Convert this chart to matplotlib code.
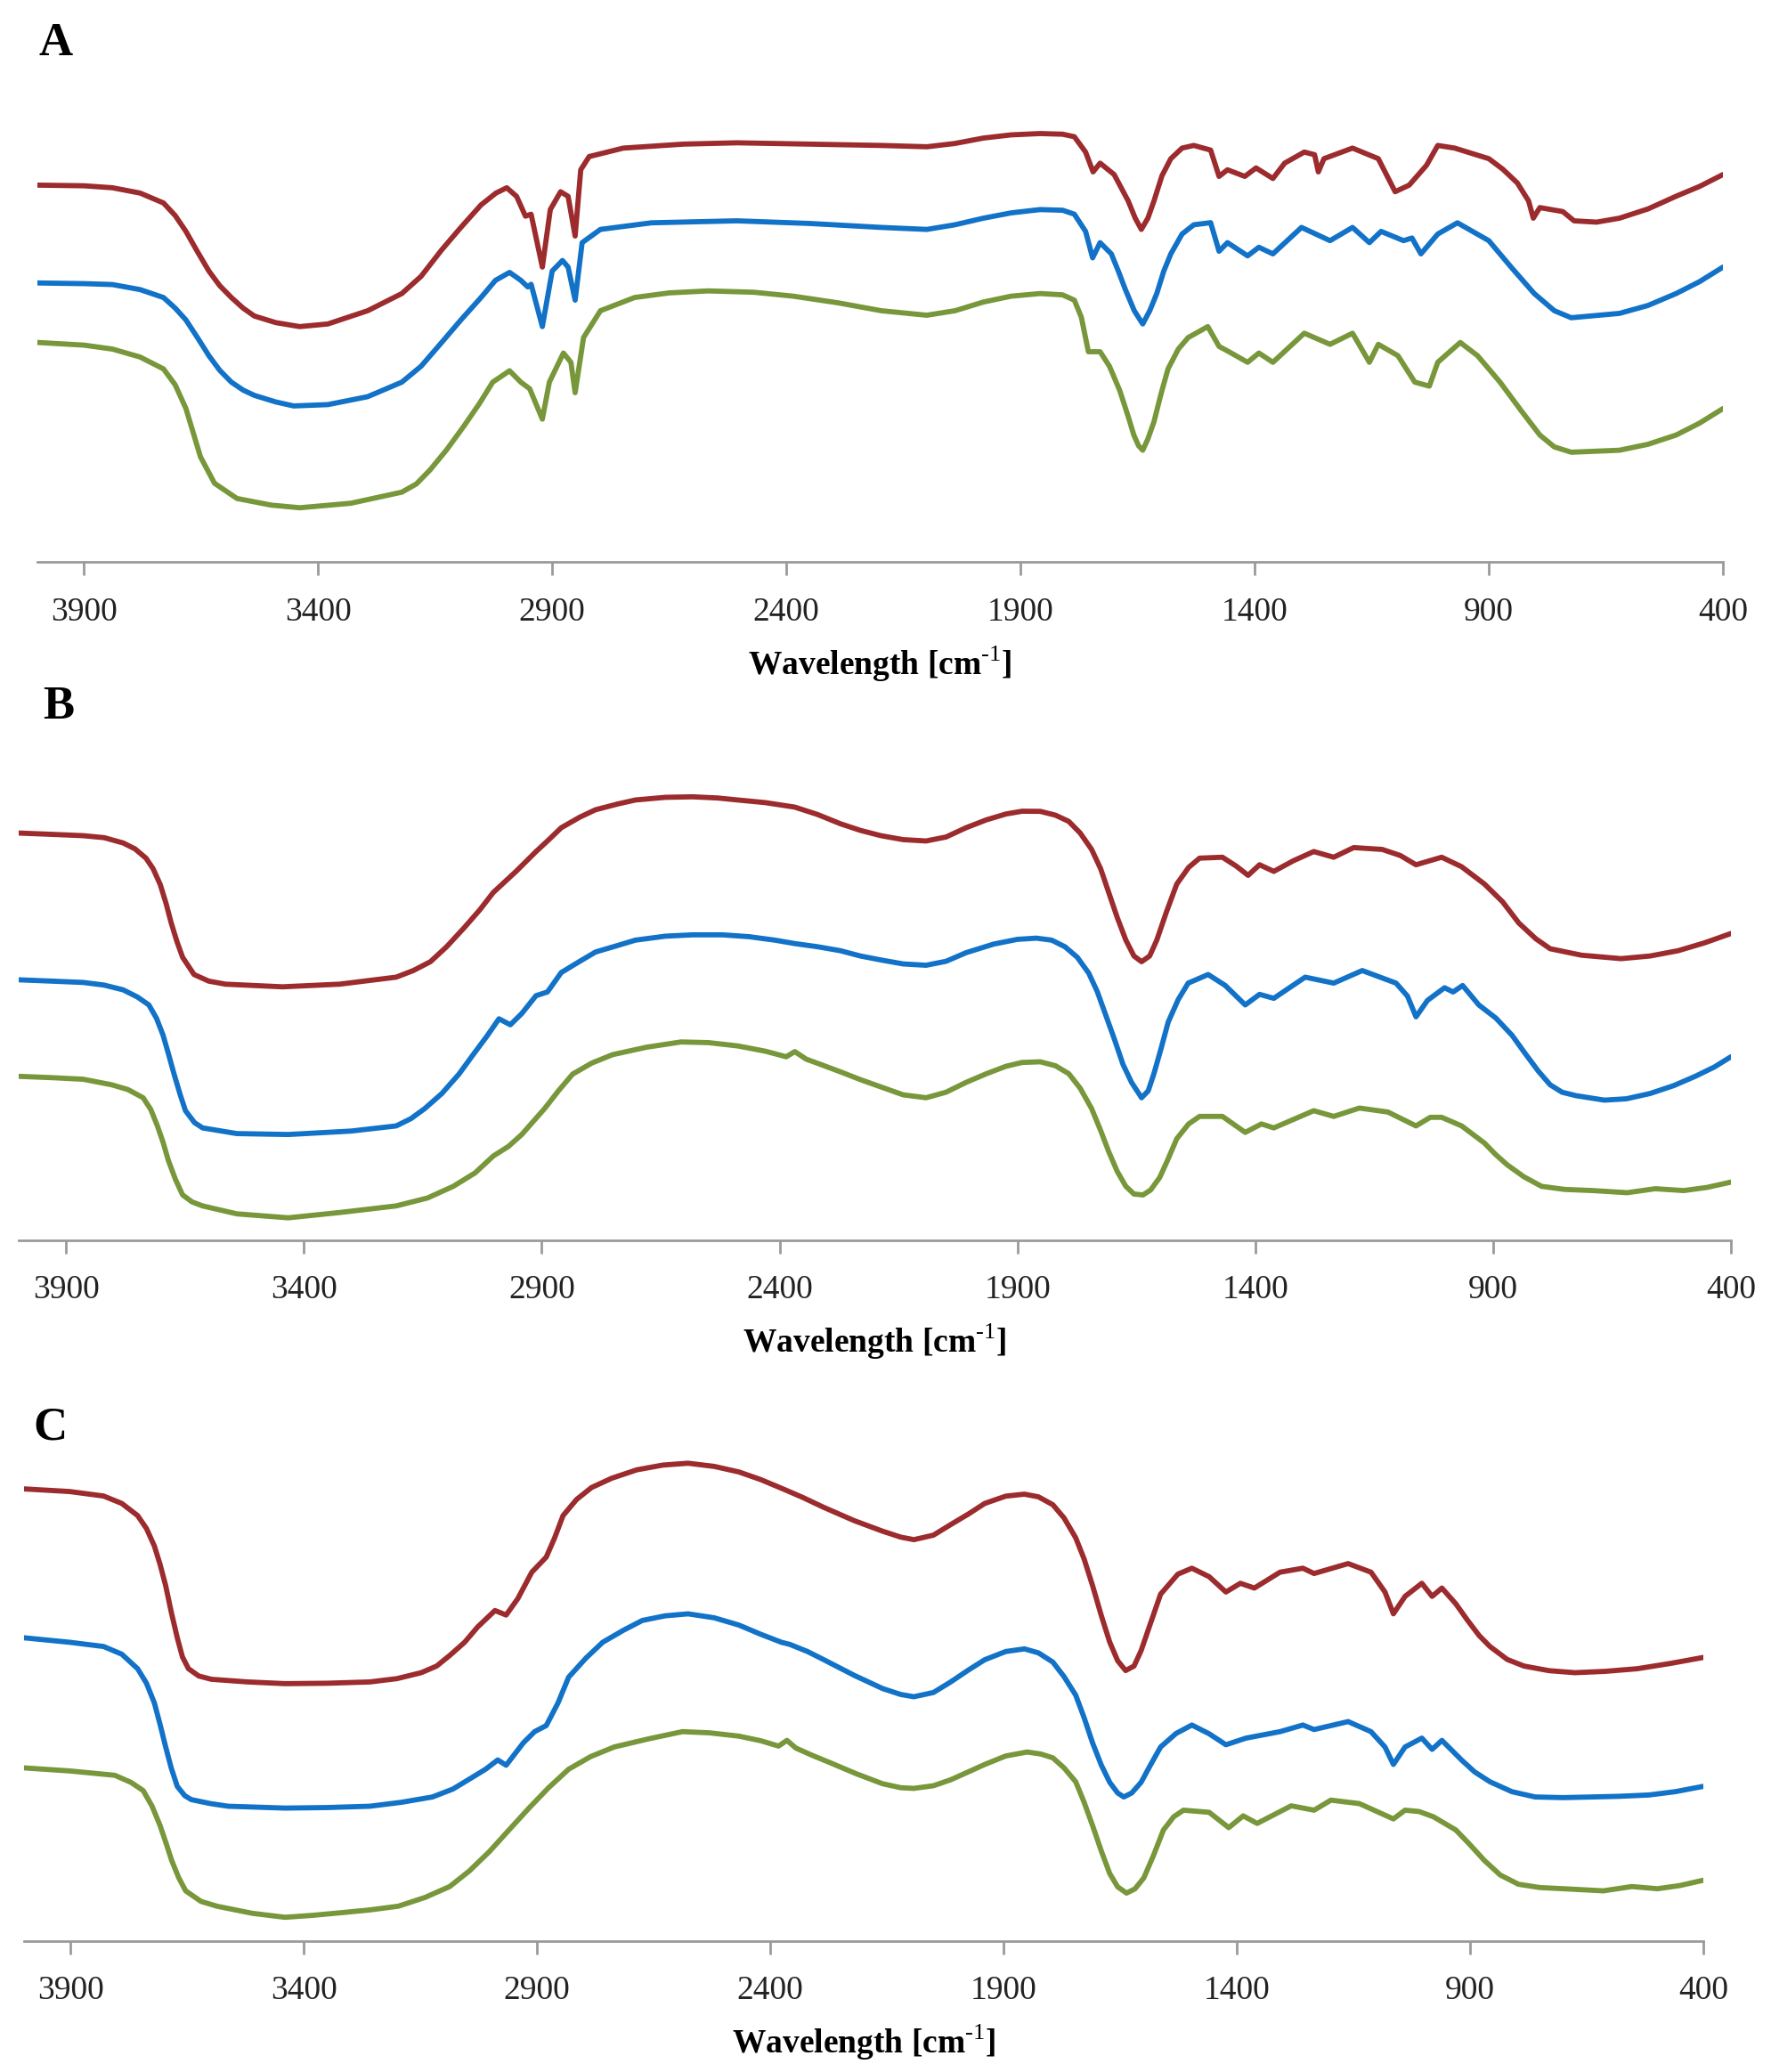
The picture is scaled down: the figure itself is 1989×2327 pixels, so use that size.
import matplotlib
matplotlib.use("Agg")
import matplotlib.pyplot as plt

# wavenumber [cm-1] and relative transmittance (a.u.)

# ---- panel A ----
a_red_wn = [3999, 3900, 3839, 3780, 3730, 3705, 3682, 3658, 3633, 3610, 3585, 3560, 3536, 3490, 3439,
            3379, 3294, 3221, 3180, 3136, 3095, 3052, 3020, 2997, 2976, 2957, 2945, 2921, 2904, 2882,
            2866, 2851, 2839, 2821, 2748, 2620, 2506, 2350, 2197, 2100, 2040, 1979, 1920, 1858, 1810,
            1785, 1761, 1745, 1730, 1700, 1670, 1655, 1642, 1628, 1615, 1598, 1579, 1555, 1530, 1494,
            1476, 1458, 1421, 1397, 1361, 1336, 1294, 1272, 1264, 1252, 1191, 1136, 1100, 1070, 1033,
            1009, 973, 900, 870, 839, 815, 805, 791, 742, 718, 670, 621, 560, 500, 450, 400]
a_red_t = [285, 284.5, 283, 279, 271.5, 262, 250, 235, 220, 209, 200, 192, 186, 181, 178,
           180, 190, 203, 216, 236, 253, 270, 279, 283, 276.5, 261.5, 263, 223, 266.5, 280,
           276.5, 246.5, 296.6, 306.6, 313, 316, 317, 316, 315, 314, 316.5, 320.6, 323, 324, 323.5,
           321.6, 310, 295, 301.6, 293, 273, 260, 251.5, 260, 273, 292, 305, 313, 315, 311.5,
           291.6, 296.6, 291.6, 298, 290, 301.6, 310, 308, 295, 305, 313, 305, 280, 285, 300,
           315, 313, 305, 297, 286.6, 273, 260, 268, 265, 258, 257, 260, 267, 276.6, 284, 293]

a_blue_wn = [3999, 3900, 3839, 3780, 3730, 3705, 3682, 3658, 3633, 3610, 3585, 3560, 3536, 3490, 3452,
             3379, 3294, 3221, 3180, 3136, 3095, 3052, 3021, 2991, 2967, 2952, 2945, 2921, 2900, 2878,
             2866, 2851, 2836, 2797, 2688, 2506, 2350, 2197, 2100, 2040, 1979, 1920, 1858, 1810, 1785,
             1761, 1746, 1730, 1706, 1690, 1676, 1657, 1639, 1624, 1609, 1594, 1579, 1555, 1530, 1494,
             1476, 1458, 1415, 1391, 1361, 1300, 1239, 1191, 1155, 1130, 1082, 1064, 1045, 1009, 967,
             900, 850, 803, 760, 724, 621, 560, 500, 450, 400]
a_blue_t = [211, 210.5, 209.8, 206, 200, 192, 183, 170, 156, 145, 136, 130, 126, 121, 118,
            119, 125, 136, 148, 166, 183, 200, 213, 219, 213, 208, 210, 178, 220, 228,
            223, 198, 241.5, 251.5, 256.5, 258, 256, 253, 251.5, 255, 260, 264, 266.5, 266, 263,
            250, 230, 241.5, 233, 219, 206, 190, 180, 190, 203, 220, 233, 248, 255, 256.6,
            235, 241.5, 231.5, 238, 233, 253, 243, 253, 241.5, 250, 243, 245, 233, 248, 256.5,
            243, 222, 203, 190, 184.7, 188, 194, 203, 212, 223]

a_green_wn = [3999, 3900, 3839, 3780, 3730, 3705, 3682, 3665, 3651, 3621, 3573, 3500, 3439, 3330, 3221,
              3190, 3161, 3125, 3088, 3055, 3027, 2991, 2967, 2948, 2921, 2906, 2876, 2860, 2851, 2833,
              2797, 2724, 2650, 2567, 2470, 2385, 2290, 2197, 2100, 2040, 1979, 1920, 1858, 1810, 1785,
              1770, 1755, 1730, 1710, 1688, 1670, 1658, 1648, 1639, 1628, 1615, 1600, 1585, 1563, 1542,
              1500, 1476, 1458, 1415, 1391, 1361, 1294, 1239, 1191, 1155, 1136, 1094, 1058, 1027, 1009,
              961, 924, 876, 830, 791, 760, 724, 621, 560, 500, 450, 400]
a_green_t = [166, 164, 161, 155, 146, 134, 116, 96, 79.5, 59.5, 48, 43, 41, 44.4, 52.8,
             59, 69.5, 85, 103, 120, 136, 144.6, 136, 131, 108, 136, 158, 151, 128, 169.7,
             190, 200, 203.5, 205, 204, 201, 196, 190, 186.6, 190, 196.6, 201, 203, 202, 198,
             185, 159, 159, 148, 129.6, 110, 96, 88, 84.5, 93, 106, 127, 146, 161, 169.7,
             178, 163, 159.6, 151, 158, 151, 173, 164.6, 173, 151, 164.6, 156, 136, 133, 151,
             166, 156, 136, 114, 96, 87, 83, 84.5, 89, 96, 105, 116]

# ---- panel B ----
b_red_wn = [4000, 3930, 3864, 3820, 3780, 3755, 3732, 3717, 3702, 3690, 3679, 3667, 3655, 3631, 3600,
            3565, 3445, 3325, 3206, 3170, 3134, 3100, 3062, 3030, 3002, 2954, 2912, 2885, 2859, 2820,
            2787, 2740, 2703, 2640, 2583, 2530, 2488, 2430, 2368, 2320, 2272, 2230, 2187, 2140, 2092,
            2050, 2008, 1965, 1924, 1890, 1852, 1820, 1792, 1768, 1744, 1725, 1708, 1690, 1672, 1655,
            1639, 1622, 1607, 1587, 1565, 1540, 1517, 1469, 1440, 1415, 1391, 1361, 1320, 1277, 1235,
            1193, 1133, 1095, 1062, 1008, 966, 918, 880, 846, 810, 780, 714, 631, 570, 511,
            455, 400]
b_red_t = [308, 307, 306, 304.5, 300.5, 296, 289, 281, 269, 255, 240, 226, 214, 201, 196,
           193.7, 191.7, 193.7, 199, 204, 210.7, 222, 236.8, 250, 263, 279, 294, 303, 312, 320,
           325.6, 330, 333, 335, 335.4, 334.5, 333, 331, 327.6, 322, 315, 310, 306, 303, 302,
           305, 312, 318, 322.4, 324.5, 324.4, 321.5, 316.8, 308, 295.6, 281, 263, 244, 227, 215,
           210.7, 215, 227, 248, 269.4, 282, 289, 289.7, 283, 276, 284, 279, 287, 294, 289.7,
           297, 295.6, 291, 284, 289.7, 282.5, 269.4, 256, 240, 228, 220.5, 215.6, 213, 215, 219,
           225, 232]

b_blue_wn = [4000, 3930, 3864, 3820, 3780, 3750, 3726, 3710, 3696, 3684, 3673, 3660, 3649, 3630, 3613,
             3541, 3433, 3301, 3206, 3175, 3146, 3110, 3074, 3045, 3014, 2990, 2966, 2942, 2912, 2888,
             2859, 2820, 2787, 2740, 2703, 2640, 2583, 2520, 2464, 2410, 2368, 2320, 2272, 2230, 2187,
             2140, 2092, 2050, 2008, 1950, 1900, 1860, 1828, 1800, 1774, 1750, 1732, 1714, 1696, 1678,
             1660, 1639, 1625, 1613, 1598, 1583, 1562, 1541, 1499, 1463, 1421, 1391, 1361, 1295, 1235,
             1175, 1104, 1080, 1062, 1038, 1002, 984, 964, 930, 894, 860, 834, 805, 780, 755,
             726, 666, 620, 570, 520, 475, 435, 400]
b_blue_t = [197, 196, 195, 193, 189.4, 184, 178, 168, 155, 140, 125.7, 110, 98, 89, 85,
            80.7, 80, 82.6, 86.5, 92, 99.6, 111, 125.7, 140, 155, 167.5, 163, 171.5, 185, 187.8,
            202.5, 211, 218, 223, 227, 230, 231, 231, 229.6, 227, 224.4, 222, 219, 215, 212,
            209, 208, 211, 217.5, 224, 227.6, 228.5, 227, 222, 214, 202, 188, 170, 152, 133,
            119.4, 107.8, 113, 126, 145, 165, 182, 194.5, 201, 192.7, 178, 186, 183, 199, 194.5,
            204, 194.5, 184.7, 169, 181.4, 191, 187.8, 192.7, 178, 168, 155, 142, 128, 117.6, 112,
            109.4, 106, 107, 111, 117, 124, 131, 138.8]

b_green_wn = [4000, 3930, 3864, 3804, 3770, 3738, 3722, 3708, 3696, 3685, 3670, 3655, 3635, 3613, 3541,
              3433, 3325, 3206, 3140, 3086, 3040, 3002, 2970, 2942, 2920, 2894, 2865, 2835, 2795, 2751,
              2680, 2607, 2550, 2488, 2430, 2386, 2368, 2344, 2310, 2272, 2230, 2187, 2140, 2092, 2050,
              2008, 1965, 1924, 1890, 1852, 1820, 1792, 1768, 1744, 1725, 1708, 1690, 1672, 1655, 1636,
              1620, 1601, 1585, 1565, 1540, 1517, 1469, 1421, 1387, 1361, 1277, 1235, 1181, 1121, 1062,
              1032, 1008, 966, 918, 895, 870, 835, 798, 750, 690, 618, 559, 499, 450, 400]
b_green_t = [124, 123, 121.8, 117.6, 114, 107.8, 99, 86.5, 74, 60.4, 46, 34.3, 29, 26, 20,
             17, 21, 26, 32, 40.8, 51, 63.7, 71, 80, 89, 99.6, 113, 125.7, 134, 140.4,
             146, 150, 149.5, 147, 143, 138.8, 142.7, 137, 132.5, 127.4, 121.5, 116, 110, 107.8, 112,
             119.4, 126, 131.6, 134.5, 135, 132, 126, 115, 99.6, 83, 67, 52, 40.8, 35, 34.3,
             38, 47.4, 60, 76.8, 88, 93.7, 93.7, 81.6, 88, 85, 98, 93.7, 100, 97, 86.5,
             93, 93, 86.5, 73.5, 65, 57, 48, 40.8, 38.5, 37.6, 36, 39, 37.6, 40, 44]

# ---- panel C ----
c_red_wn = [4000, 3902, 3829, 3790, 3756, 3737, 3720, 3708, 3696, 3684, 3671, 3660, 3647, 3625, 3598,
            3520, 3440, 3350, 3258, 3200, 3148, 3115, 3087, 3055, 3027, 2990, 2966, 2941, 2911, 2880,
            2862, 2844, 2815, 2783, 2740, 2686, 2630, 2576, 2520, 2467, 2420, 2370, 2330, 2285, 2220,
            2159, 2120, 2092, 2050, 2013, 1975, 1940, 1895, 1855, 1825, 1794, 1770, 1745, 1727, 1709,
            1690, 1672, 1655, 1638, 1620, 1605, 1585, 1563, 1526, 1496, 1459, 1423, 1392, 1362, 1307,
            1258, 1234, 1161, 1112, 1082, 1064, 1039, 1003, 981, 960, 930, 905, 880, 857, 820,
            784, 730, 675, 610, 541, 470, 400]
c_red_t = [342, 340, 336.6, 331, 321.8, 312, 298.7, 285, 269, 249, 229.4, 215, 206, 200.5, 198,
           196, 194.7, 195, 196, 198.5, 203, 208, 216, 226, 237.6, 250, 246.6, 259, 279, 290.4,
           305, 321.8, 334, 343, 350, 356.4, 360, 361.4, 359, 354.8, 349, 341.6, 335.5, 328, 318,
           310, 305.5, 303.6, 307, 315, 323, 331, 336.5, 338, 336, 330, 320, 305, 289, 269,
           246, 226, 212, 204.6, 208, 219.5, 240, 262.4, 277.5, 282, 275.6, 264, 270.6, 267, 279,
           282, 278, 285.5, 279, 264, 247.5, 260.7, 270.6, 260.7, 267, 255, 242.6, 231, 222.8, 213,
           208, 204.5, 203, 204, 206, 210, 214.5]

c_blue_wn = [4000, 3902, 3829, 3790, 3756, 3737, 3720, 3708, 3696, 3684, 3671, 3655, 3641, 3600, 3562,
             3440, 3350, 3258, 3190, 3124, 3080, 3039, 3010, 2984, 2966, 2929, 2905, 2880, 2855, 2832,
             2795, 2759, 2715, 2674, 2625, 2576, 2520, 2467, 2420, 2376, 2358, 2320, 2285, 2220, 2159,
             2120, 2092, 2050, 2013, 1975, 1940, 1895, 1855, 1825, 1794, 1770, 1745, 1727, 1709, 1690,
             1672, 1655, 1642, 1625, 1605, 1585, 1563, 1530, 1496, 1459, 1423, 1380, 1307, 1258, 1234,
             1161, 1112, 1082, 1064, 1039, 1003, 981, 960, 918, 890, 857, 810, 760, 700, 638,
             580, 516, 460, 400]
c_blue_t = [229.4, 226, 222.8, 217, 206, 195, 180, 164, 147, 131, 117, 110, 107, 104, 102,
            100.6, 101, 102, 105, 109, 115, 123.75, 130, 137, 133, 150, 158.4, 163, 180, 199.6,
            214, 226, 235, 242.5, 246, 247.5, 244.5, 239, 232, 226, 224.4, 219, 212.8, 201, 191,
            186.5, 184.8, 188, 196, 205, 212.8, 219, 221, 218, 211, 200, 186, 169, 150, 133,
            120, 112, 109, 112, 120, 133, 146.8, 157, 163.4, 156.8, 148.5, 153.5, 158.4, 163.4, 160,
            166, 158.4, 146.8, 133.6, 146.8, 153.5, 145, 151.8, 137, 128, 120.5, 113, 109, 108.5, 109,
            109.5, 110.5, 113, 117]

c_green_wn = [4000, 3902, 3805, 3770, 3744, 3725, 3708, 3695, 3683, 3668, 3653, 3620, 3586, 3510, 3440,
              3380, 3319, 3260, 3197, 3140, 3087, 3045, 3002, 2960, 2917, 2875, 2832, 2785, 2734, 2660,
              2588, 2530, 2467, 2420, 2382, 2364, 2345, 2310, 2272, 2215, 2159, 2120, 2092, 2050, 2013,
              1975, 1940, 1895, 1849, 1820, 1794, 1770, 1745, 1727, 1709, 1690, 1672, 1655, 1636, 1618,
              1599, 1578, 1557, 1535, 1514, 1459, 1417, 1386, 1356, 1283, 1234, 1198, 1137, 1064, 1039,
              1009, 978, 930, 900, 869, 835, 796, 750, 699, 614, 553, 498, 450, 400]
c_green_t = [131, 128.7, 125.4, 120, 113.8, 102, 87.5, 74, 61, 48, 38, 30, 26.4, 21, 18,
             19.5, 21.5, 23.5, 26.4, 33, 41.25, 53, 67.65, 84, 100.6, 116, 130, 139.5, 146.85, 153,
             158.4, 157.5, 155, 151.5, 147.5, 151.8, 146, 140.5, 135, 126.5, 119, 116, 115.5, 117.5, 122,
             128, 133.6, 140, 143, 141.5, 138.6, 131, 120.5, 105, 87.5, 68, 51, 41, 36.3, 39.5,
             47.8, 65, 84, 94, 99, 97.4, 85.8, 94.7, 89, 102.3, 99, 106.6, 104, 92.4, 99,
             98, 94, 84, 73, 61, 50, 43, 40.5, 39.6, 38, 41.25, 39.6, 42, 46]

panel_names = ["A", "B", "C"]
xticks = [3900, 3400, 2900, 2400, 1900, 1400, 900, 400]

RED = "#9c2b2e"
BLUE = "#1272c8"
GREEN = "#77973a"

plt.rcParams["font.family"] = ["Liberation Serif", "DejaVu Serif"]
plt.rcParams["mathtext.fontset"] = "custom"
plt.rcParams["mathtext.rm"] = "Liberation Serif"
plt.rcParams["mathtext.bf"] = "Liberation Serif:bold"

fig = plt.figure(figsize=(19.90, 23.27), dpi=100)

W, H = 1340.0, 1567.0
# left, right, axis-line y, top y  (in reference pixel units)
boxes = [(28, 1303, 425, 60), (14, 1309, 938, 570), (18, 1288, 1468, 1100)]
label_pos = [(42, 33), (44, 535), (38, 1080)]

series = [
    [(a_red_wn, a_red_t), (a_blue_wn, a_blue_t), (a_green_wn, a_green_t)],
    [(b_red_wn, b_red_t), (b_blue_wn, b_blue_t), (b_green_wn, b_green_t)],
    [(c_red_wn, c_red_t), (c_blue_wn, c_blue_t), (c_green_wn, c_green_t)],
]

for i in range(3):
    l, r, b, t = boxes[i]
    ax = fig.add_axes([l / W, 1 - b / H, (r - l) / W, (b - t) / H])
    for (wn, tr), col in zip(series[i], [RED, BLUE, GREEN]):
        ax.plot(wn, tr, color=col, lw=4.2, solid_joinstyle="round", solid_capstyle="round")
    ax.set_xlim(4000, 400)
    ax.set_ylim(0, b - t)
    for s in ["left", "right", "top"]:
        ax.spines[s].set_visible(False)
    ax.spines["bottom"].set_color("#9a9a9a")
    ax.spines["bottom"].set_linewidth(2)
    ax.set_yticks([])
    ax.set_xticks(xticks)
    ax.tick_params(axis="x", direction="out", length=11, width=2, color="#9a9a9a",
                   pad=17, labelsize=27, labelcolor="#222222")
    ax.set_xlabel(r"Wavelength [cm$^{\text{-1}}$]", fontsize=27, fontweight="bold")
    ax.xaxis.set_label_coords(0.5, -77.0 / (b - t))
    ax.xaxis.label.set_va("center")

    lx, ly = label_pos[i]
    fig.text(lx / W, 1 - ly / H, panel_names[i], fontsize=38, fontweight="bold",
             ha="center", va="center")

fig.savefig("out.png", dpi=100, facecolor="white")
